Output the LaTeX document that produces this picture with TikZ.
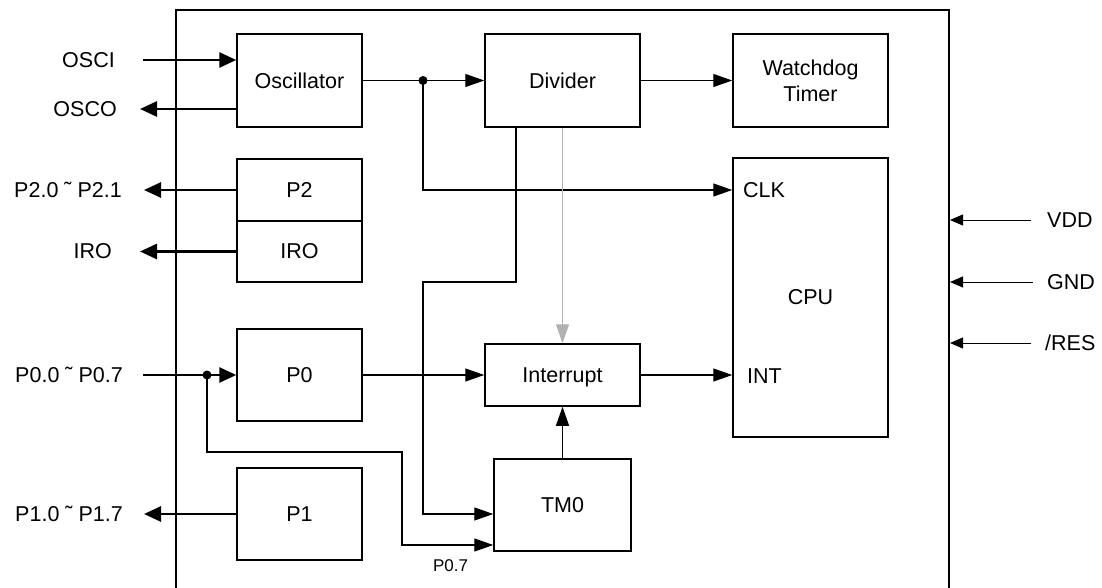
\documentclass[tikz,border=0pt]{standalone}
\usepackage{fontspec}
\setmainfont{Liberation Sans}
\usetikzlibrary{arrows.meta}
\definecolor{clkgray}{RGB}{178,178,178}

\begin{document}
\begin{tikzpicture}[x=1pt, y=-1pt, line join=miter,
    font=\fontsize{21.5}{26}\selectfont,
    blk/.style={draw, line width=1.5pt, inner sep=0pt, align=center},
    lbl/.style={inner sep=0pt},
    wire/.style={line width=1.3pt, -{Triangle[length=19pt,width=13pt]}},
    bus/.style={line width=2.8pt, -{Triangle[length=17pt,width=15pt]}},
    pin/.style={line width=1pt, -{Triangle[length=13pt,width=11pt]}}]

                \useasboundingbox (0,0) rectangle (1102,588);

                % chip outline
                \node[draw, line width=2pt, inner sep=0pt, minimum width=773pt, minimum height=640pt] (chip) at (562.5,330) {};

                % blocks
                \node[blk, minimum width=125pt, minimum height=93pt] (osc) at (299.5,80.5) {Oscillator};
                \node[blk, minimum width=155pt, minimum height=93pt] (div) at (562.5,80.5) {Divider};
                \node[blk, minimum width=155pt, minimum height=93pt] (wdt) at (810.5,80.5) {Watchdog\\Timer};
                \node[blk, minimum width=125pt, minimum height=62pt] (p2) at (299.5,190) {P2};
                \node[blk, minimum width=125pt, minimum height=61pt] (iro) at (299.5,251.5) {IRO};
                \node[blk, minimum width=155pt, minimum height=279pt] (cpu) at (810.5,297.5) {CPU};
                \node[blk, minimum width=125pt, minimum height=92pt] (p0) at (299.5,375) {P0};
                \node[blk, minimum width=155pt, minimum height=62pt, text depth=0pt] (intr) at (562.5,375) {Interrupt};
                \node[blk, minimum width=125pt, minimum height=92pt] (p1) at (299.5,514) {P1};
                \node[blk, minimum width=137pt, minimum height=92pt] (tm0) at (562.5,505) {TM0};

                \node[lbl, anchor=west] (clk) at (743,190) {CLK};
                \node[lbl, anchor=west] (int) at (747,376) {INT};

                % pin names
                \node[lbl, anchor=east] (osci) at (115,60) {OSCI};
                \node[lbl, anchor=east] (osco) at (117,109) {OSCO};
                \node[lbl, anchor=east] (p2pins) at (122,190) {P2.0 ˜ P2.1};
                \node[lbl, anchor=east] (iropin) at (112,251.5) {IRO};
                \node[lbl, anchor=east] (p0pins) at (123,375) {P0.0 ˜ P0.7};
                \node[lbl, anchor=east] (p1pins) at (123,514) {P1.0 ˜ P1.7};
                \node[lbl, anchor=west] (vdd) at (1047,220) {VDD};
                \node[lbl, anchor=west] (gnd) at (1047,282) {GND};
                \node[lbl, anchor=west] (res) at (1045,343) {/RES};
                \node[lbl, font=\fontsize{17}{20}\selectfont] (p07) at (450.5,566) {P0.7};

                \coordinate (osci-in) at (143,60);
                \coordinate (osco-out) at (140,109);
                \coordinate (p2-out) at (144,190);
                \coordinate (iro-out) at (140,251.5);
                \coordinate (p0-in) at (143,375);
                \coordinate (p1-out) at (144,514);
                \coordinate (vdd-in) at (1031,220);
                \coordinate (gnd-in) at (1033,282);
                \coordinate (res-in) at (1031,343);
                \coordinate (tap) at (423,80.5);
                \coordinate (p0tap) at (207,375);
                \coordinate (clkturn) at (423,282);
                \coordinate (p07turn) at (402,452);

                % outside signals
                \draw[bus] (osci-in) -- (osci-in -| osc.west);
                \draw[bus] (osco-out -| osc.west) -- (osco-out);
                \draw[bus] (p2.west) -- (p2-out);
                \draw[bus] (iro.west) -- (iro-out);
                \draw[bus] (p0-in) -- (p0.west);
                \draw[bus] (p1.west) -- (p1-out);

                \draw[pin] (vdd-in) -- (vdd-in -| chip.east);
                \draw[pin] (gnd-in) -- (gnd-in -| chip.east);
                \draw[pin] (res-in) -- (res-in -| chip.east);

                % inside
                \draw[wire] (osc.east) -- (div.west);
                \draw[wire] (div.east) -- (wdt.west);
                \draw[wire] (tap) |- (cpu.west |- clk);
                \fill (tap) circle (4.5pt);

                \draw[wire] (p0.east) -- (intr.west);
                \draw[wire] (intr.east) -- (cpu.west |- intr.east);
                \draw[wire] (tm0.north) -- (intr.south);
                \draw[wire, line width=1.2pt, draw=clkgray, fill=clkgray] (div.south) -- (intr.north);

                \draw[wire] ([xshift=-46.5pt]div.south) |- (clkturn) |- ([yshift=-9pt]tm0.west);
                \draw[wire] (p0tap) |- (p07turn) |- ([yshift=-40pt]tm0.west);
                \fill (p0tap) circle (4.5pt);

            \end{tikzpicture}
\end{document}
